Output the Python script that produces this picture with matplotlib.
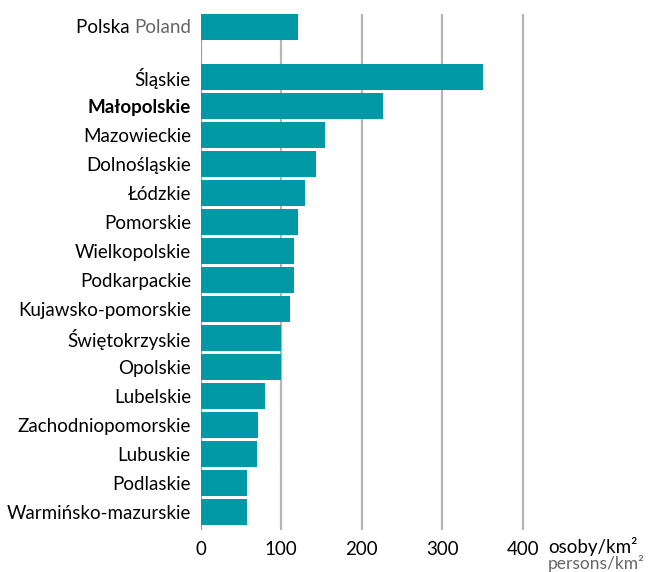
import matplotlib.pyplot as plt

plt.rcParams['font.family'] = ['Lato', 'DejaVu Sans']

TEAL = '#0099a5'
GRID = '#b5b5b5'

country = "Polska"
country_en = "Poland"
country_value = 121

regions = ["Śląskie", "Małopolskie", "Mazowieckie", "Dolnośląskie", "Łódzkie",
           "Pomorskie", "Wielkopolskie", "Podkarpackie", "Kujawsko-pomorskie",
           "Świętokrzyskie", "Opolskie", "Lubelskie", "Zachodniopomorskie",
           "Lubuskie", "Podlaskie", "Warmińsko-mazurskie"]
density = [351, 226, 154, 143, 130, 121, 116, 116, 111,
           100, 100, 80, 71, 70, 57, 57]
ticks = [0, 100, 200, 300, 400]

# Polska on top, small gap, then regions
gap = 1.72
ypos = [gap + i for i in range(len(regions))]

fig = plt.figure(figsize=(6.51, 5.72), dpi=100)
ax = fig.add_axes([0.3083, 0.0734, 0.5194, 0.9021])

ax.barh([0], [country_value], height=0.88, color=TEAL, zorder=3)
ax.barh(ypos, density, height=0.88, color=TEAL, zorder=3)

ax.set_xlim(0, 420)
ax.set_ylim(ypos[-1] + 0.62, -0.45)

for t in ticks:
    ax.axvline(t, color='#9a9a9a' if t == 0 else GRID, lw=1.6, zorder=2)

for s in ax.spines.values():
    s.set_visible(False)

fs = 13.5
ax.set_xticks(ticks)
ax.set_xticklabels([str(t) for t in ticks], fontsize=fs)
ax.tick_params(axis='x', length=0, pad=8)

ax.set_yticks(ypos)
ax.set_yticklabels(regions, fontsize=fs)
ax.tick_params(axis='y', length=0, pad=7)
for lab in ax.get_yticklabels():
    if lab.get_text() == "Małopolskie":
        lab.set_fontweight('bold')

# two-tone country label
en = ax.annotate(country_en, xy=(0, 0), xycoords=('data', 'data'),
                 xytext=(-7, 0), textcoords='offset points',
                 ha='right', va='center', fontsize=fs, color='#666666')
ax.annotate(country + " ", xy=(0, 0.5), xycoords=en,
            ha='right', va='center', fontsize=fs, color='black')

fig.text(548 / 651, 1 - 546 / 572, "osoby/km²", fontsize=13.5, va='center', color='black')
fig.text(548 / 651, 1 - 563 / 572, "persons/km²", fontsize=12.5, va='center', color='#666666')

fig.savefig("out.png", dpi=100)
